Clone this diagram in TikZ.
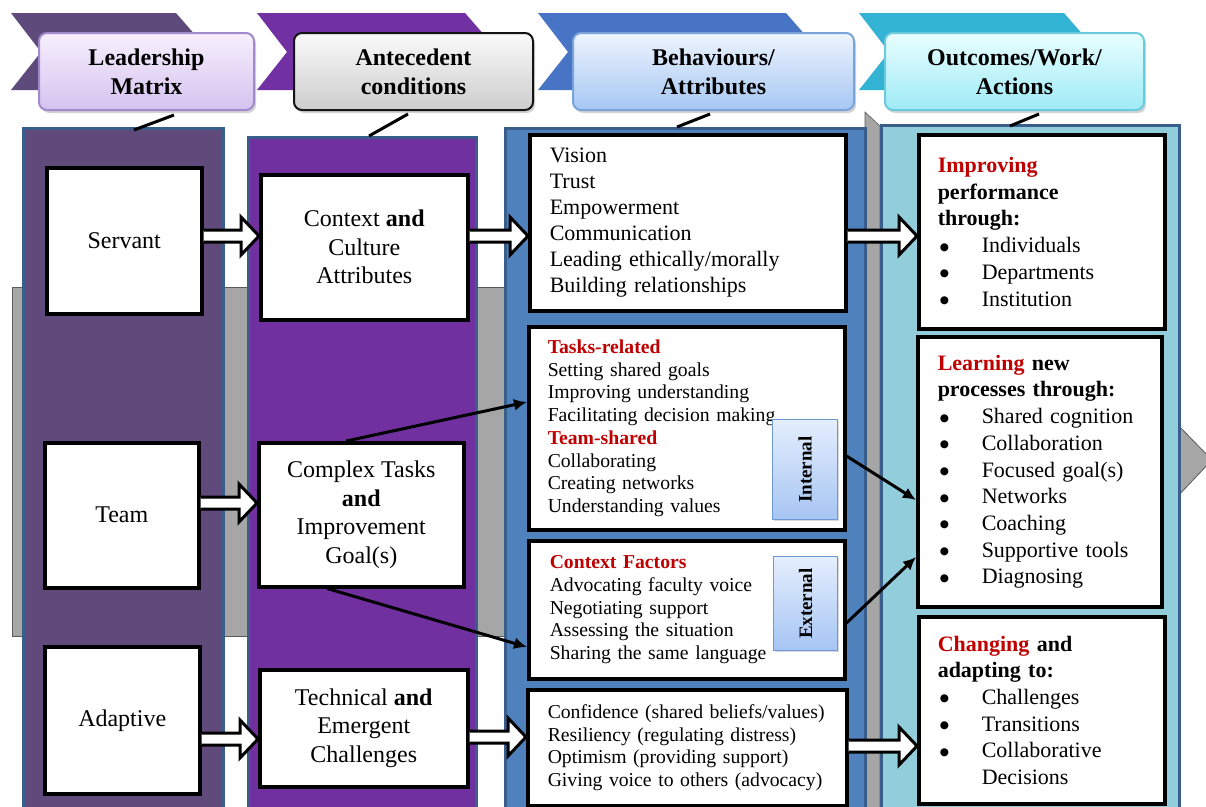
\documentclass[tikz,border=0pt]{standalone}
\usepackage{fontspec}
\setmainfont{Liberation Serif}
\newfontfamily\dotfont{DejaVu Sans}
\usetikzlibrary{calc,arrows.meta,shadows}

\definecolor{colA}{HTML}{604A7B}
\definecolor{colB}{HTML}{7030A0}
\definecolor{colC}{HTML}{4F81BD}
\definecolor{colD}{HTML}{92CDDC}
\definecolor{colborder}{HTML}{3A5E8C}
\definecolor{grayband}{HTML}{A6A6A6}
\definecolor{grayedge}{HTML}{5A5A5A}
\definecolor{accent}{HTML}{C00000}
\definecolor{chevA}{HTML}{5F4A7C}
\definecolor{chevB}{HTML}{7231A2}
\definecolor{chevC}{HTML}{4874C6}
\definecolor{chevD}{HTML}{33B3D3}
\definecolor{hAtop}{HTML}{F7F0FD}
\definecolor{hAbot}{HTML}{D4C2EF}
\definecolor{hAedge}{HTML}{A08ACB}
\definecolor{hBtop}{HTML}{FAFAFA}
\definecolor{hBbot}{HTML}{CDCDCD}
\definecolor{hBedge}{HTML}{141414}
\definecolor{hCtop}{HTML}{EDF4FE}
\definecolor{hCbot}{HTML}{A6C7F3}
\definecolor{hCedge}{HTML}{7AA2DB}
\definecolor{hDtop}{HTML}{E9FEFF}
\definecolor{hDbot}{HTML}{9EEBF6}
\definecolor{hDedge}{HTML}{6BCBDD}
\definecolor{tagedge}{HTML}{6C9AD6}
\definecolor{tagtop}{HTML}{E4EEFD}
\definecolor{tagbottom}{HTML}{A6C5F3}

% bullet list entry inside an outcome box
\newcommand\itm[1]{\hspace*{2pt}\makebox[42pt][l]{\raisebox{2.5pt}{\dotfont\fontsize{10.5}{10.5}\selectfont ●}}#1}

\tikzset{
  column/.style={draw=colborder, line width=3pt, anchor=north west, inner sep=0pt},
  box/.style={draw=black, line width=3.5pt, fill=white, anchor=north west, inner sep=0pt},
  bigtext/.style={align=center, font=\fontsize{24}{28.5}\selectfont},
  midtext/.style={align=left, font=\fontsize{22}{26}\selectfont},
  smalltext/.style={align=left, font=\fontsize{19.7}{22.7}\selectfont},
  outtext/.style={align=left, font=\fontsize{22}{26.7}\selectfont},
  hbox/.style={rounded corners=8pt, line width=2pt, anchor=north west, align=center,
    minimum height=77pt, inner sep=0pt,
    font=\bfseries\fontsize{24}{29}\selectfont,
    drop shadow={shadow xshift=2pt, shadow yshift=-3pt, opacity=0.35}},
  tag/.style={draw=tagedge, line width=1.2pt, top color=tagtop, bottom color=tagbottom,
    anchor=north west, inner sep=0pt,
    drop shadow={shadow xshift=1.5pt, shadow yshift=-1.5pt, opacity=0.3}},
  tagtext/.style={rotate=90, font=\bfseries\fontsize{19}{22}\selectfont},
  hline/.style={draw=black, line width=3pt},
  link/.style={draw=black, line width=3pt, -{Latex[length=13pt, width=12pt]}},
  blockarrow/.style={draw=black, line width=3pt, fill=white, line join=miter,
    to path={let \p1=(\tikztostart), \p2=(\tikztotarget) in
      (\x1,\y1+6pt) -- (\x2-18pt,\y1+6pt) -- (\x2-18pt,\y1+19pt) -- (\x2,\y1)
      -- (\x2-18pt,\y1-19pt) -- (\x2-18pt,\y1-6pt) -- (\x1,\y1-6pt)}}
}

\begin{document}
\begin{tikzpicture}[x=1pt, y=-1pt]
\useasboundingbox (0,0) rectangle (1206,806);

% header chevrons
\fill[chevA] (11,13) -- (176,13) -- (210,52) -- (176,90) -- (11,90) -- (41,52) -- cycle;
\fill[chevB] (257,13) -- (465,13) -- (499,52) -- (465,90) -- (257,90) -- (287,52) -- cycle;
\fill[chevC] (538,13) -- (786,13) -- (820,52) -- (786,90) -- (538,90) -- (568,52) -- cycle;
\fill[chevD] (859,13) -- (1064,13) -- (1098,52) -- (1064,90) -- (859,90) -- (889,52) -- cycle;

% header boxes
\node[hbox, minimum width=215pt, top color=hAtop, bottom color=hAbot, draw=hAedge]
  (h1) at (38,32) {Leadership\\Matrix};
\node[hbox, minimum width=239pt, top color=hBtop, bottom color=hBbot, draw=hBedge]
  (h2) at (293,32) {Antecedent\\conditions};
\node[hbox, minimum width=281pt, top color=hCtop, bottom color=hCbot, draw=hCedge]
  (h3) at (572,32) {Behaviours/\\Attributes};
\node[hbox, minimum width=259pt, top color=hDtop, bottom color=hDbot, draw=hDedge]
  (h4) at (884,32) {Outcomes/Work/\\Actions};

% grey background arrow and the grey separator strip
\draw[fill=grayband, draw=grayedge, line width=0.8pt] (12,287) rectangle (1176,636);
\draw[fill=grayband, draw=grayedge, line width=0.8pt] (1176,423) -- (1212,460) -- (1176,498) -- cycle;
\draw[fill=grayband, draw=grayedge, line width=0.6pt] (865,112) -- (880,126) -- (880,815) -- (865,815) -- cycle;

% columns
\node[column, fill=colA, minimum width=200pt, minimum height=700pt] (c1) at (22,127) {};
\node[column, fill=colB, minimum width=228pt, minimum height=700pt] (c2) at (247,136) {};
\node[column, fill=colC, minimum width=360pt, minimum height=700pt] (c3) at (504,127) {};
\node[column, fill=colD, minimum width=298pt, minimum height=700pt] (c4) at (880,124) {};

% header ticks
\draw[hline] ($(h1.south -| 174,0)+(0,4)$) -- ($(c1.north -| 134,0)+(0,3)$);
\draw[hline] ($(h2.south -| 408,0)+(0,3)$) -- ($(c2.north -| 369,0)+(0,0)$);
\draw[hline] ($(h3.south -| 710,0)+(0,3)$) -- ($(c3.north -| 677,0)+(0,0)$);
\draw[hline] ($(h4.south -| 1039,0)+(0,3)$) -- ($(c4.north -| 1010,0)+(0,2)$);

% leadership matrix
\node[box, bigtext, minimum width=155pt, minimum height=146pt] (servant) at (45,166) {Servant};
\node[box, bigtext, minimum width=154pt, minimum height=145pt] (team) at (43,441) {Team};
\node[box, bigtext, minimum width=155pt, minimum height=147pt] (adaptive) at (43,645) {Adaptive};

% antecedent conditions
\node[box, bigtext, minimum width=207pt, minimum height=145pt] (context) at (259,173)
  {Context \textbf{and}\\Culture\\Attributes};
\node[box, bigtext, minimum width=205pt, minimum height=144pt] (complex) at (257,441)
  {Complex Tasks\\\textbf{and}\\Improvement\\Goal(s)};
\node[box, bigtext, minimum width=208pt, minimum height=117pt] (technical) at (258,668)
  {Technical \textbf{and}\\Emergent\\Challenges};

% behaviours / attributes
\node[box, midtext, minimum width=316pt, minimum height=176pt, inner xsep=20pt, text width=276pt] (vision) at (528,133)
  {Vision\\Trust\\Empowerment\\Communication\\Leading ethically/morally\\Building relationships};
\node[box, smalltext, minimum width=316pt, minimum height=203pt, inner xsep=19pt, text width=278pt] (tasks) at (527,325)
  {\textcolor{accent}{\textbf{Tasks-related}}\\Setting shared goals\\Improving understanding\\Facilitating decision making\\
   \textcolor{accent}{\textbf{Team-shared}}\\Collaborating\\Creating networks\\Understanding values};
\node[box, smalltext, minimum width=316pt, minimum height=138pt, inner xsep=21pt, text width=274pt] (ctxf) at (527,539)
  {\textcolor{accent}{\textbf{Context Factors}}\\Advocating faculty voice\\Negotiating support\\Assessing the situation\\Sharing the same language};
\node[box, smalltext, minimum width=319pt, minimum height=116pt, inner xsep=20pt, text width=279pt] (confid) at (526,688)
  {Confidence (shared beliefs/values)\\Resiliency (regulating distress)\\Optimism (providing support)\\Giving voice to others (advocacy)};

\node[tag, minimum width=65pt, minimum height=100pt] (internal) at (772,419) {};
\node[tagtext] at (internal.center) {Internal};
\node[tag, minimum width=64pt, minimum height=94pt] (external) at (773,556) {};
\node[tagtext] at (external.center) {External};

% outcomes / work / actions
\node[box, outtext, minimum width=246pt, minimum height=194pt, inner xsep=19pt, text width=208pt] (improving) at (917,133)
  {\textcolor{accent}{\textbf{Improving}}\\\textbf{performance}\\\textbf{through:}\\\itm{Individuals}\\\itm{Departments}\\\itm{Institution}};
\node[box, outtext, minimum width=244pt, minimum height=270pt, inner xsep=20pt, text width=204pt] (learning) at (916,335)
  {\textcolor{accent}{\textbf{Learning}} \textbf{new}\\\textbf{processes through:}\\\itm{Shared cognition}\\\itm{Collaboration}\\
   \itm{Focused goal(s)}\\\itm{Networks}\\\itm{Coaching}\\\itm{Supportive tools}\\\itm{Diagnosing}};
\node[box, outtext, minimum width=246pt, minimum height=187pt, inner xsep=19pt, text width=208pt] (changing) at (917,615)
  {\textcolor{accent}{\textbf{Changing}} \textbf{and}\\\textbf{adapting to:}\\\itm{Challenges}\\\itm{Transitions}\\\itm{Collaborative}\\
   \hspace*{44pt}Decisions};

% block arrows between stages
\draw[blockarrow] (servant.east |- 0,236) to (context.west |- 0,236);
\draw[blockarrow] (context.east |- 0,236) to (vision.west |- 0,236);
\draw[blockarrow] (vision.east |- 0,236) to (improving.west |- 0,236);
\draw[blockarrow] (team.east |- 0,503) to (complex.west |- 0,503);
\draw[blockarrow] (adaptive.east |- 0,739) to (technical.west |- 0,739);
\draw[blockarrow] (technical.east |- 0,737) to (confid.west |- 0,737);
\draw[blockarrow] (confid.east |- 0,746) to (changing.west |- 0,746);

% thin links
\draw[link] ([xshift=-15pt]complex.north) -- (tasks.west |- 0,402);
\draw[link] ([xshift=-34pt]complex.south) -- (ctxf.west |- 0,647);
\draw[link] (tasks.east |- 0,456) -- (learning.west |- 0,500);
\draw[link] (ctxf.east |- 0,623) -- (learning.west |- 0,557);
\end{tikzpicture}
\end{document}
